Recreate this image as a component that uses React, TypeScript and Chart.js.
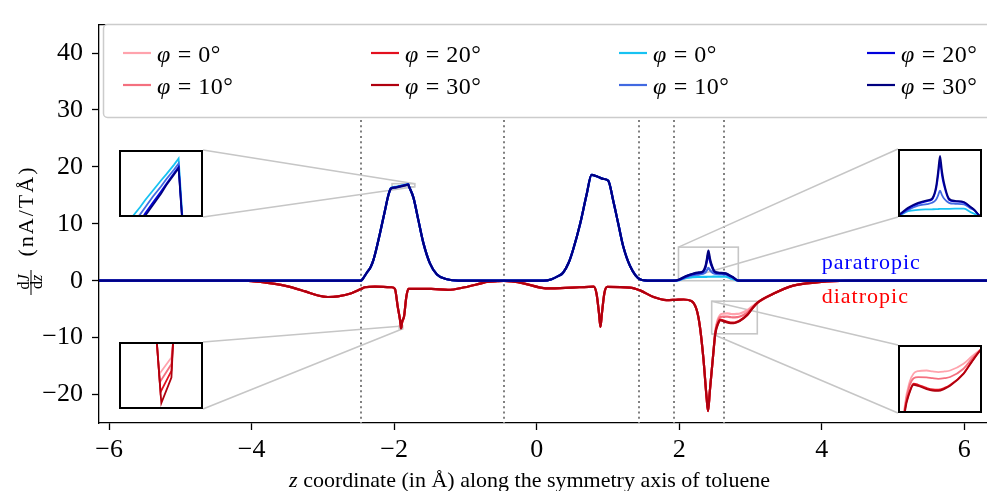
import React, { useEffect, useRef } from 'react';
import { Chart, registerables } from 'chart.js';

Chart.register(...registerables);

// ---------- axes ----------
const X_MIN = -6.143;
const X_MAX = 6.32;
const Y_MIN = -25;
const Y_MAX = 45;
const xTickValues = [-6, -4, -2, 0, 2, 4, 6];
const yTickValues = [-20, -10, 0, 10, 20, 30, 40];
const atomZ = [-2.46, -0.46, 1.44, 1.93, 2.63];

// ---------- series labels / colours ----------
const phiValues = ['0', '10', '20', '30'];
const diaColors = ['#ffa3ad', '#f4707f', '#e3101e', '#b0000e'];
const paraColors = ['#17c2f2', '#4169e1', '#0000dc', '#000080'];

// ---------- paratropic (common part) ----------
const paraZ = [-6.143, -2.47, -2.44, -2.385, -2.33, -2.29, -2.25, -2.2, -2.13, -2.08, -1.73, -1.66, -1.59, -1.5, -1.4, -1.26, -1.1, 0.1, 0.21, 0.3, 0.37, 0.45, 0.51, 0.61, 0.7, 0.77, 0.85, 0.93, 1.005, 1.075, 1.145, 1.215, 1.31, 1.45, 1.6, 1.93, 2.9, 6.32];
const paraY = [0, 0, 0.35, 1.4, 2.4, 3.7, 5.6, 8.3, 12.3, 15.1, 14.6, 10.6, 6.6, 3.1, 1.1, 0.25, 0, 0, 0.27, 0.8, 1.4, 3.2, 5.4, 10.0, 15.1, 18.6, 18.3, 17.9, 17.55, 14.0, 10.0, 6.0, 2.6, 0.27, 0, 0, 0, 0];

// paratropic: top of the first peak, per angle
const paraTopZ = [-2.045, -1.98, -1.95, -1.93, -1.9, -1.87, -1.85, -1.82, -1.803, -1.79];
const paraTop0 = [16.3, 16.5, 16.58, 16.64, 16.72, 16.8, 16.85, 16.93, 16.98, 16.55];
const paraTop10 = [16.25, 16.45, 16.52, 16.58, 16.67, 16.75, 16.81, 16.89, 16.94, 16.52];
const paraTop20 = [16.2, 16.39, 16.46, 16.53, 16.62, 16.71, 16.77, 16.86, 16.91, 16.5];
const paraTop30 = [16.2, 16.37, 16.44, 16.51, 16.6, 16.69, 16.76, 16.85, 16.9, 16.5];

// paratropic: small bump near z = 2.4, per angle
const paraBumpZ = [2.0, 2.09, 2.19, 2.28, 2.33, 2.37, 2.39, 2.41, 2.43, 2.45, 2.5, 2.56, 2.65, 2.72, 2.75, 2.83];
const paraBump0 = [0.1, 0.5, 0.62, 0.66, 0.67, 0.68, 0.69, 0.7, 0.7, 0.7, 0.71, 0.72, 0.73, 0.4, 0.3, 0];
const paraBump10 = [0.15, 0.6, 0.98, 1.12, 1.23, 1.5, 1.85, 2.28, 1.9, 1.6, 1.23, 1.15, 1.1, 0.72, 0.6, 0];
const paraBump20 = [0.18, 0.72, 1.15, 1.38, 1.52, 2.4, 3.5, 4.8, 3.6, 2.75, 1.5, 1.35, 1.25, 0.82, 0.62, 0];
const paraBump30 = [0.2, 0.8, 1.23, 1.45, 1.6, 2.6, 3.9, 5.3, 4.0, 3.0, 1.6, 1.4, 1.3, 0.85, 0.65, 0];

// ---------- diatropic (common part) ----------
const diaZ = [-6.143, -4.26, -4.0, -3.82, -3.54, -3.26, -3.07, -2.93, -2.79, -2.6, -2.46, -2.41, -2.27, -2.04, -1.99, -1.95, -1.9075, -1.8978, -1.862, -1.83, -1.8, -1.48, -1.245, -1.01, -0.78, -0.7, -0.55, -0.46, -0.35, -0.17, 0.05, 0.2, 0.4, 0.6, 0.8, 0.84, 0.875, 0.895, 0.915, 0.95, 0.99, 1.31, 1.45, 1.64, 1.82, 1.95, 2.06, 2.17, 2.245, 2.29, 2.34, 2.385, 2.405, 2.43, 2.48, 3.32, 3.6, 3.93, 4.26, 4.6, 6.32];
const diaY = [0, 0, -0.06, -0.3, -0.86, -1.83, -2.6, -2.86, -2.74, -2.2, -1.43, -1.15, -1.03, -1.15, -1.43, -4.6, -7.95, -7.95, -6.3, -2.86, -1.43, -1.43, -1.6, -1.15, -0.46, -0.22, -0.08, -0.03, -0.12, -0.5, -1.2, -1.35, -1.25, -1.15, -1.05, -2.3, -5.8, -8.1, -5.8, -2.2, -1.1, -1.2, -1.7, -2.86, -3.4, -3.35, -3.3, -3.55, -5.1, -8.0, -13.7, -20.6, -22.9, -19.4, -12.6, -2.3, -0.86, -0.29, -0.05, 0, 0];

// diatropic: tip of the spike near z = -1.9, per angle
const diaSpikeZ0 = [-1.9061, -1.8988];
const diaSpikeY0 = [-8.19, -8.065];
const diaSpikeZ10 = [-1.9057, -1.8988];
const diaSpikeY10 = [-8.25, -8.115];
const diaSpikeZ20 = [-1.9053, -1.8988];
const diaSpikeY20 = [-8.325, -8.165];
const diaSpikeZ30 = [-1.9048, -1.8988];
const diaSpikeY30 = [-8.405, -8.215];

// diatropic: shoulder after the main dip, per angle
const diaShZ = [2.507, 2.545, 2.575, 2.61, 2.674, 2.72, 2.763, 2.81, 2.853, 2.955, 3.02, 3.096];
const diaSh0 = [-8.8, -6.7, -6.0, -5.8, -5.75, -5.83, -5.88, -5.83, -5.75, -5.18, -4.55, -3.89];
const diaSh10 = [-9.0, -7.0, -6.4, -6.3, -6.32, -6.4, -6.45, -6.4, -6.3, -5.6, -4.75, -3.89];
const diaSh20 = [-9.2, -7.5, -6.85, -6.95, -7.22, -7.35, -7.37, -7.22, -6.98, -6.0, -4.95, -3.89];
const diaSh30 = [-9.33, -7.6, -6.95, -7.05, -7.32, -7.45, -7.47, -7.3, -7.04, -6.04, -5.0, -3.89];

// ---------- inset zoom windows ----------
const insetZ0 = [-2.03, -1.93, 1.99, 2.456];
const insetZ1 = [-1.71, -1.88, 2.83, 3.096];
const insetY0 = [16.5, -8.45, 0, -9.33];
const insetY1 = [17.05, -7.95, 5.9, -3.6];

// layout (pixels) of the inset boxes
const insetBoxes = [
  { left: 119, top: 150, w: 84, h: 67, side: 'right', smooth: false },
  { left: 119, top: 342, w: 84, h: 67, side: 'right', smooth: false },
  { left: 898, top: 149, w: 84, h: 68, side: 'left', smooth: true },
  { left: 898, top: 345, w: 84, h: 68, side: 'left', smooth: true },
];

const SERIF = "'Liberation Serif', 'Times New Roman', serif";

function buildSeries(baseZ: number[], baseY: number[], extras: [number[], number[]][]) {
  const pts = baseZ.map((z, i) => ({ x: z, y: baseY[i] }));
  extras.forEach(([zs, ys]) => zs.forEach((z, i) => pts.push({ x: z, y: ys[i] })));
  pts.sort((a, b) => a.x - b.x);
  return pts;
}

function makeDatasets(width: number, smooth: boolean) {
  const diaExtras: [number[], number[]][][] = [
    [[diaSpikeZ0, diaSpikeY0], [diaShZ, diaSh0]],
    [[diaSpikeZ10, diaSpikeY10], [diaShZ, diaSh10]],
    [[diaSpikeZ20, diaSpikeY20], [diaShZ, diaSh20]],
    [[diaSpikeZ30, diaSpikeY30], [diaShZ, diaSh30]],
  ];
  const paraExtras: [number[], number[]][][] = [
    [[paraTopZ, paraTop0], [paraBumpZ, paraBump0]],
    [[paraTopZ, paraTop10], [paraBumpZ, paraBump10]],
    [[paraTopZ, paraTop20], [paraBumpZ, paraBump20]],
    [[paraTopZ, paraTop30], [paraBumpZ, paraBump30]],
  ];
  const common: any = {
    borderWidth: width,
    pointRadius: 0,
    pointHoverRadius: 0,
    fill: false,
  };
  if (smooth) common.cubicInterpolationMode = 'monotone';
  else common.tension = 0;
  const ds: any[] = [];
  diaExtras.forEach((ex, i) =>
    ds.push({ ...common, label: 'φ = ' + phiValues[i] + '°', borderColor: diaColors[i], data: buildSeries(diaZ, diaY, ex) })
  );
  paraExtras.forEach((ex, i) =>
    ds.push({ ...common, label: 'φ = ' + phiValues[i] + '°', borderColor: paraColors[i], data: buildSeries(paraZ, paraY, ex) })
  );
  // later datasets drawn on top (Chart.js draws lowest order last)
  ds.forEach((d, i) => {
    d.order = ds.length - 1 - i;
  });
  return ds;
}

const fmtTick = (v: number) => (v < 0 ? '\u2212' + Math.abs(v) : String(v));

const decorPlugin = {
  id: 'decor',
  beforeDatasetsDraw(chart: any) {
    const { ctx, chartArea: a, scales } = chart;
    const x = scales.x;
    const y = scales.y;
    ctx.save();
    // dotted vertical lines
    ctx.strokeStyle = '#808080';
    ctx.lineWidth = 2;
    ctx.setLineDash([2, 3.3]);
    atomZ.forEach((z) => {
      const px = Math.round(x.getPixelForValue(z));
      ctx.beginPath();
      ctx.moveTo(px, a.top);
      ctx.lineTo(px, a.bottom);
      ctx.stroke();
    });
    ctx.setLineDash([]);
    // zoom rectangles & connectors
    ctx.strokeStyle = '#c6c6c6';
    ctx.lineWidth = 1.6;
    insetBoxes.forEach((b, i) => {
      const rx0 = x.getPixelForValue(insetZ0[i]);
      const rx1 = x.getPixelForValue(insetZ1[i]);
      const ryb = y.getPixelForValue(insetY0[i]);
      const ryt = y.getPixelForValue(insetY1[i]);
      ctx.strokeRect(rx0, ryt, rx1 - rx0, ryb - ryt);
      ctx.beginPath();
      if (b.side === 'right') {
        ctx.moveTo(b.left + b.w, b.top);
        ctx.lineTo(rx1, ryt);
        ctx.moveTo(b.left + b.w, b.top + b.h);
        ctx.lineTo(rx1, ryb);
      } else {
        ctx.moveTo(b.left, b.top);
        ctx.lineTo(rx0, ryt);
        ctx.moveTo(b.left, b.top + b.h);
        ctx.lineTo(rx0, ryb);
      }
      ctx.stroke();
    });
    ctx.restore();
  },
  afterDraw(chart: any) {
    const { ctx, chartArea: a, scales } = chart;
    const x = scales.x;
    const y = scales.y;
    ctx.save();
    // top spine
    ctx.strokeStyle = '#000';
    ctx.lineWidth = 1.3;
    ctx.beginPath();
    ctx.moveTo(a.left - 0.65, a.top);
    ctx.lineTo(a.right + 2, a.top);
    ctx.stroke();

    // legend
    const lx = 103.5, ly = 24.5, lh = 93;
    ctx.fillStyle = '#ffffff';
    ctx.strokeStyle = '#cccccc';
    ctx.lineWidth = 1.5;
    ctx.beginPath();
    ctx.roundRect(lx, ly, 1010 - lx, lh, 4);
    ctx.fill();
    ctx.stroke();
    const cols = [123, 371, 619, 867];
    const rows = [53, 85];
    chart.data.datasets.forEach((ds: any, i: number) => {
      const cx = cols[Math.floor(i / 2)];
      const cy = rows[i % 2];
      ctx.strokeStyle = ds.borderColor;
      ctx.lineWidth = 2.2;
      ctx.beginPath();
      ctx.moveTo(cx, cy);
      ctx.lineTo(cx + 28, cy);
      ctx.stroke();
      ctx.fillStyle = '#000';
      ctx.textAlign = 'left';
      ctx.textBaseline = 'alphabetic';
      ctx.font = 'italic 24px ' + SERIF;
      const phiW = ctx.measureText('φ').width;
      ctx.fillText('φ', cx + 34, cy + 8.5);
      ctx.font = '24px ' + SERIF;
      (ctx as any).letterSpacing = '0.5px';
      ctx.fillText(' = ' + phiValues[i % 4] + '°', cx + 34 + phiW + 1, cy + 8.5);
      (ctx as any).letterSpacing = '0px';
    });

    // paratropic / diatropic annotations
    ctx.font = '22px ' + SERIF;
    (ctx as any).letterSpacing = '1px';
    ctx.textAlign = 'left';
    ctx.fillStyle = '#0000ff';
    ctx.fillText('paratropic', x.getPixelForValue(4.0), y.getPixelForValue(2.1));
    ctx.fillStyle = '#ff0000';
    ctx.fillText('diatropic', x.getPixelForValue(4.0), y.getPixelForValue(-3.9));
    (ctx as any).letterSpacing = '0px';

    // x-axis title
    ctx.fillStyle = '#000';
    ctx.font = 'italic 22px ' + SERIF;
    const zW = ctx.measureText('z').width;
    ctx.font = '22px ' + SERIF;
    const rest = ' coordinate (in Å) along the symmetry axis of toluene';
    const rW = ctx.measureText(rest).width;
    const startX = 529.5 - (zW + rW) / 2;
    ctx.font = 'italic 22px ' + SERIF;
    ctx.fillText('z', startX, 487);
    ctx.font = '22px ' + SERIF;
    ctx.fillText(rest, startX + zW, 487);

    // y-axis title (rotated)
    ctx.textAlign = 'center';
    ctx.save();
    ctx.translate(33, 211);
    ctx.rotate(-Math.PI / 2);
    ctx.font = '22px ' + SERIF;
    (ctx as any).letterSpacing = '2px';
    ctx.fillText('(nA/TÅ)', 0, 0);
    (ctx as any).letterSpacing = '0px';
    ctx.restore();
    // fraction dJ/dz
    ctx.save();
    ctx.translate(29, 282);
    ctx.rotate(-Math.PI / 2);
    ctx.font = '16px ' + SERIF;
    const dW = ctx.measureText('d').width;
    ctx.font = 'italic 16px ' + SERIF;
    const jW = ctx.measureText('J').width;
    ctx.textAlign = 'left';
    ctx.font = '16px ' + SERIF;
    ctx.fillText('d', -(dW + jW) / 2, 0);
    ctx.font = 'italic 16px ' + SERIF;
    ctx.fillText('J', -(dW + jW) / 2 + dW, 0);
    ctx.restore();
    ctx.save();
    ctx.translate(41.5, 282);
    ctx.rotate(-Math.PI / 2);
    ctx.font = '16px ' + SERIF;
    const zW2 = ctx.measureText('d').width;
    ctx.font = 'italic 16px ' + SERIF;
    const zz = ctx.measureText('z').width;
    ctx.textAlign = 'left';
    ctx.font = '16px ' + SERIF;
    ctx.fillText('d', -(zW2 + zz) / 2, 0);
    ctx.font = 'italic 16px ' + SERIF;
    ctx.fillText('z', -(zW2 + zz) / 2 + zW2, 0);
    ctx.restore();
    ctx.strokeStyle = '#000';
    ctx.lineWidth = 1;
    ctx.beginPath();
    ctx.moveTo(31, 270);
    ctx.lineTo(31, 295);
    ctx.stroke();

    ctx.restore();
  },
};

const insetBorderPlugin = {
  id: 'insetBorder',
  afterDraw(chart: any) {
    const { ctx, width, height } = chart;
    ctx.save();
    ctx.strokeStyle = '#000';
    ctx.lineWidth = 2;
    ctx.strokeRect(1, 1, width - 2, height - 2);
    ctx.restore();
  },
};

function mainConfig(): any {
  return {
    type: 'line',
    data: { datasets: makeDatasets(2.2, true) },
    options: {
      animation: false,
      responsive: false,
      devicePixelRatio: 1,
      events: [],
      layout: { padding: { top: 16, left: 0, right: 0, bottom: 0 } },
      plugins: { legend: { display: false }, tooltip: { enabled: false } },
      scales: {
        x: {
          type: 'linear',
          min: X_MIN,
          max: X_MAX,
          afterBuildTicks: (s: any) => {
            s.ticks = xTickValues.map((v) => ({ value: v }));
          },
          afterFit: (s: any) => {
            s.height = 68;
          },
          ticks: {
            callback: (v: number) => fmtTick(v),
            font: { family: SERIF, size: 26 },
            color: '#000',
            padding: 5,
            maxRotation: 0,
            autoSkip: false,
          },
          grid: { drawOnChartArea: false, tickLength: 7, tickWidth: 1.3, tickColor: '#000' },
          border: { color: '#000', width: 1.3 },
        },
        y: {
          type: 'linear',
          min: Y_MIN,
          max: Y_MAX,
          afterBuildTicks: (s: any) => {
            s.ticks = yTickValues.map((v) => ({ value: v }));
          },
          afterFit: (s: any) => {
            s.width = 99;
          },
          ticks: {
            callback: (v: number) => fmtTick(v),
            font: { family: SERIF, size: 26 },
            color: '#000',
            padding: 9,
            autoSkip: false,
          },
          grid: { drawOnChartArea: false, tickLength: 7, tickWidth: 1.3, tickColor: '#000' },
          border: { color: '#000', width: 1.3 },
        },
      },
    },
    plugins: [decorPlugin],
  };
}

function insetConfig(i: number): any {
  return {
    type: 'line',
    data: { datasets: makeDatasets(1.8, insetBoxes[i].smooth) },
    options: {
      animation: false,
      responsive: false,
      devicePixelRatio: 1,
      events: [],
      layout: { padding: 0 },
      plugins: { legend: { display: false }, tooltip: { enabled: false } },
      scales: {
        x: { type: 'linear', display: false, min: insetZ0[i], max: insetZ1[i] },
        y: { type: 'linear', display: false, min: insetY0[i], max: insetY1[i] },
      },
    },
    plugins: [insetBorderPlugin],
  };
}

export default function App() {
  const mainRef = useRef<HTMLCanvasElement | null>(null);
  const insetRefs = useRef<(HTMLCanvasElement | null)[]>([]);

  useEffect(() => {
    const charts: Chart[] = [];
    if (mainRef.current) charts.push(new Chart(mainRef.current, mainConfig()));
    insetRefs.current.forEach((c, i) => {
      if (c) charts.push(new Chart(c, insetConfig(i)));
    });
    return () => charts.forEach((c) => c.destroy());
  }, []);

  return (
    <div style={{ position: 'absolute', left: 0, top: 0, width: 987, height: 491, background: '#fff' }}>
      <canvas ref={mainRef} width={987} height={491} style={{ position: 'absolute', left: 0, top: 0 }} />
      {insetBoxes.map((b, i) => (
        <canvas
          key={i}
          ref={(el) => {
            insetRefs.current[i] = el;
          }}
          width={b.w}
          height={b.h}
          style={{ position: 'absolute', left: b.left, top: b.top, width: b.w, height: b.h }}
        />
      ))}
    </div>
  );
}
